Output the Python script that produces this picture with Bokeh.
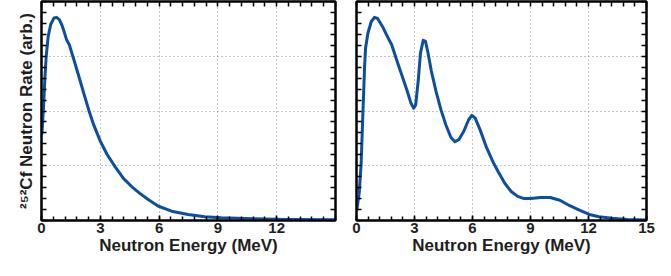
import numpy as np
from bokeh.plotting import figure
from bokeh.layouts import row
from bokeh.models import LinearAxis, FixedTicker, Range1d
from bokeh.embed import file_html
from bokeh.resources import INLINE

# ---- data ----
left_energy = [0.02, 0.05, 0.10, 0.17, 0.24, 0.34, 0.47, 0.64, 0.77, 0.91, 1.04, 1.18, 1.28,
               1.42, 1.65, 1.90, 2.16, 2.41, 2.66, 3.00, 3.34, 3.76, 4.18, 4.69, 5.00, 5.46,
               5.97, 6.64, 7.48, 8.33, 9.17, 10.8, 12.5, 15.0]
left_rate = [1.58, 1.75, 2.05, 2.58, 3.00, 3.36, 3.58, 3.70, 3.71, 3.67, 3.57, 3.42, 3.30,
             3.21, 2.94, 2.64, 2.32, 2.02, 1.75, 1.45, 1.21, 0.98, 0.77, 0.59, 0.50, 0.38,
             0.26, 0.17, 0.11, 0.07, 0.05, 0.03, 0.02, 0.015]

right_energy = [0.02, 0.14, 0.24, 0.34, 0.42, 0.47, 0.59, 0.76, 0.93, 1.09, 1.35, 1.60, 1.82,
                2.10, 2.36, 2.61, 2.82, 2.96, 3.06, 3.20, 3.31, 3.45, 3.57, 3.70, 3.87, 4.12,
                4.37, 4.62, 4.88, 5.09, 5.30, 5.55, 5.80, 5.97, 6.14, 6.39, 6.73, 7.06, 7.33,
                7.67, 8.00, 8.34, 8.67, 9.01, 9.52, 10.02, 10.52, 11.03, 11.53, 12.04, 12.54,
                13.21, 14.0, 15.0]
right_rate = [0.20, 0.50, 1.04, 2.05, 2.82, 3.15, 3.42, 3.63, 3.71, 3.69, 3.54, 3.36, 3.21,
              2.91, 2.64, 2.38, 2.14, 2.05, 2.11, 2.58, 3.06, 3.29, 3.27, 3.06, 2.73, 2.35,
              2.02, 1.75, 1.52, 1.44, 1.48, 1.63, 1.84, 1.92, 1.87, 1.66, 1.33, 1.07, 0.89,
              0.68, 0.53, 0.44, 0.40, 0.40, 0.42, 0.42, 0.37, 0.27, 0.19, 0.11, 0.07,
              0.04, 0.02, 0.01]

left_xticks = [0, 3, 6, 9, 12]
right_xticks = [0, 3, 6, 9, 12, 15]
y_ticks = [0, 1, 2, 3, 4]

x_label = "Neutron Energy (MeV)"
y_label = "²⁵²Cf Neutron Rate (arb.)"

LINE_COLOR = "#0b4f9e"
FONT = "Liberation Sans"
TEXT_COLOR = "#1e1e1e"
x_minor = [float(v) for v in np.round(np.arange(0, 15.01, 0.6), 2)]
y_minor = [float(v) for v in np.round(np.arange(0, 4.01, 0.2), 2)]


def style_axis(ax):
    ax.axis_line_color = "black"
    ax.axis_line_width = 2
    ax.major_tick_in = 5
    ax.major_tick_out = 0
    ax.minor_tick_in = 4
    ax.minor_tick_out = 0
    ax.major_tick_line_color = "black"
    ax.minor_tick_line_color = "black"
    ax.major_tick_line_width = 1.5
    ax.minor_tick_line_width = 1.5
    ax.major_label_text_font = FONT
    ax.major_label_text_font_style = "bold"
    ax.major_label_text_color = TEXT_COLOR
    ax.major_label_text_font_size = "15px"
    ax.major_label_standoff = 2
    ax.axis_label_text_font = FONT
    ax.axis_label_text_font_style = "bold"
    ax.axis_label_text_font_size = "17px"
    ax.axis_label_text_color = TEXT_COLOR


def make_panel(energy, rate, xticks, width, mb_left, mb_right, ylab):
    p = figure(width=width, height=260, output_backend="svg", toolbar_location=None,
               x_range=Range1d(0, 15), y_range=Range1d(0, 4),
               min_border_left=mb_left, min_border_right=mb_right,
               min_border_top=1, min_border_bottom=40)
    p.outline_line_color = "black"
    p.outline_line_width = 2
    p.background_fill_color = "white"
    p.border_fill_color = "white"

    # labelled bottom axis
    p.xaxis.ticker = FixedTicker(ticks=xticks, minor_ticks=x_minor)
    style_axis(p.xaxis[0])
    p.xaxis.axis_label = x_label
    p.xaxis.axis_label_standoff = 0

    # unlabelled axes: all tick marks as minor ticks (no label texts)
    y_all = sorted(set(y_minor + [float(t) for t in y_ticks]))
    x_all = sorted(set(x_minor + [float(t) for t in xticks]))
    p.yaxis.ticker = FixedTicker(ticks=[], minor_ticks=y_all)
    style_axis(p.yaxis[0])
    p.yaxis.minor_tick_in = 5
    if ylab:
        p.yaxis.axis_label = ylab
        p.yaxis.axis_label_standoff = 6

    top = LinearAxis(ticker=FixedTicker(ticks=[], minor_ticks=x_all))
    style_axis(top)
    top.minor_tick_in = 5
    p.add_layout(top, "above")
    right = LinearAxis(ticker=FixedTicker(ticks=[], minor_ticks=y_all))
    style_axis(right)
    right.minor_tick_in = 5
    p.add_layout(right, "right")

    p.xgrid.ticker = FixedTicker(ticks=xticks)
    p.ygrid.ticker = FixedTicker(ticks=y_ticks)
    for g in (p.xgrid[0], p.ygrid[0]):
        g.grid_line_color = "#8c8c8c"
        g.grid_line_width = 1
        g.grid_line_dash = "1 3"

    p.line(energy, rate, line_color=LINE_COLOR, line_width=3, line_join="round",
           line_cap="round")
    return p


p1 = make_panel(left_energy, left_rate, left_xticks, 345, 41, 10, y_label)
p2 = make_panel(right_energy, right_rate, right_xticks, 310, 11, 9, None)

layout = row(p1, p2)
open("out.html", "w").write(file_html(layout, INLINE))
